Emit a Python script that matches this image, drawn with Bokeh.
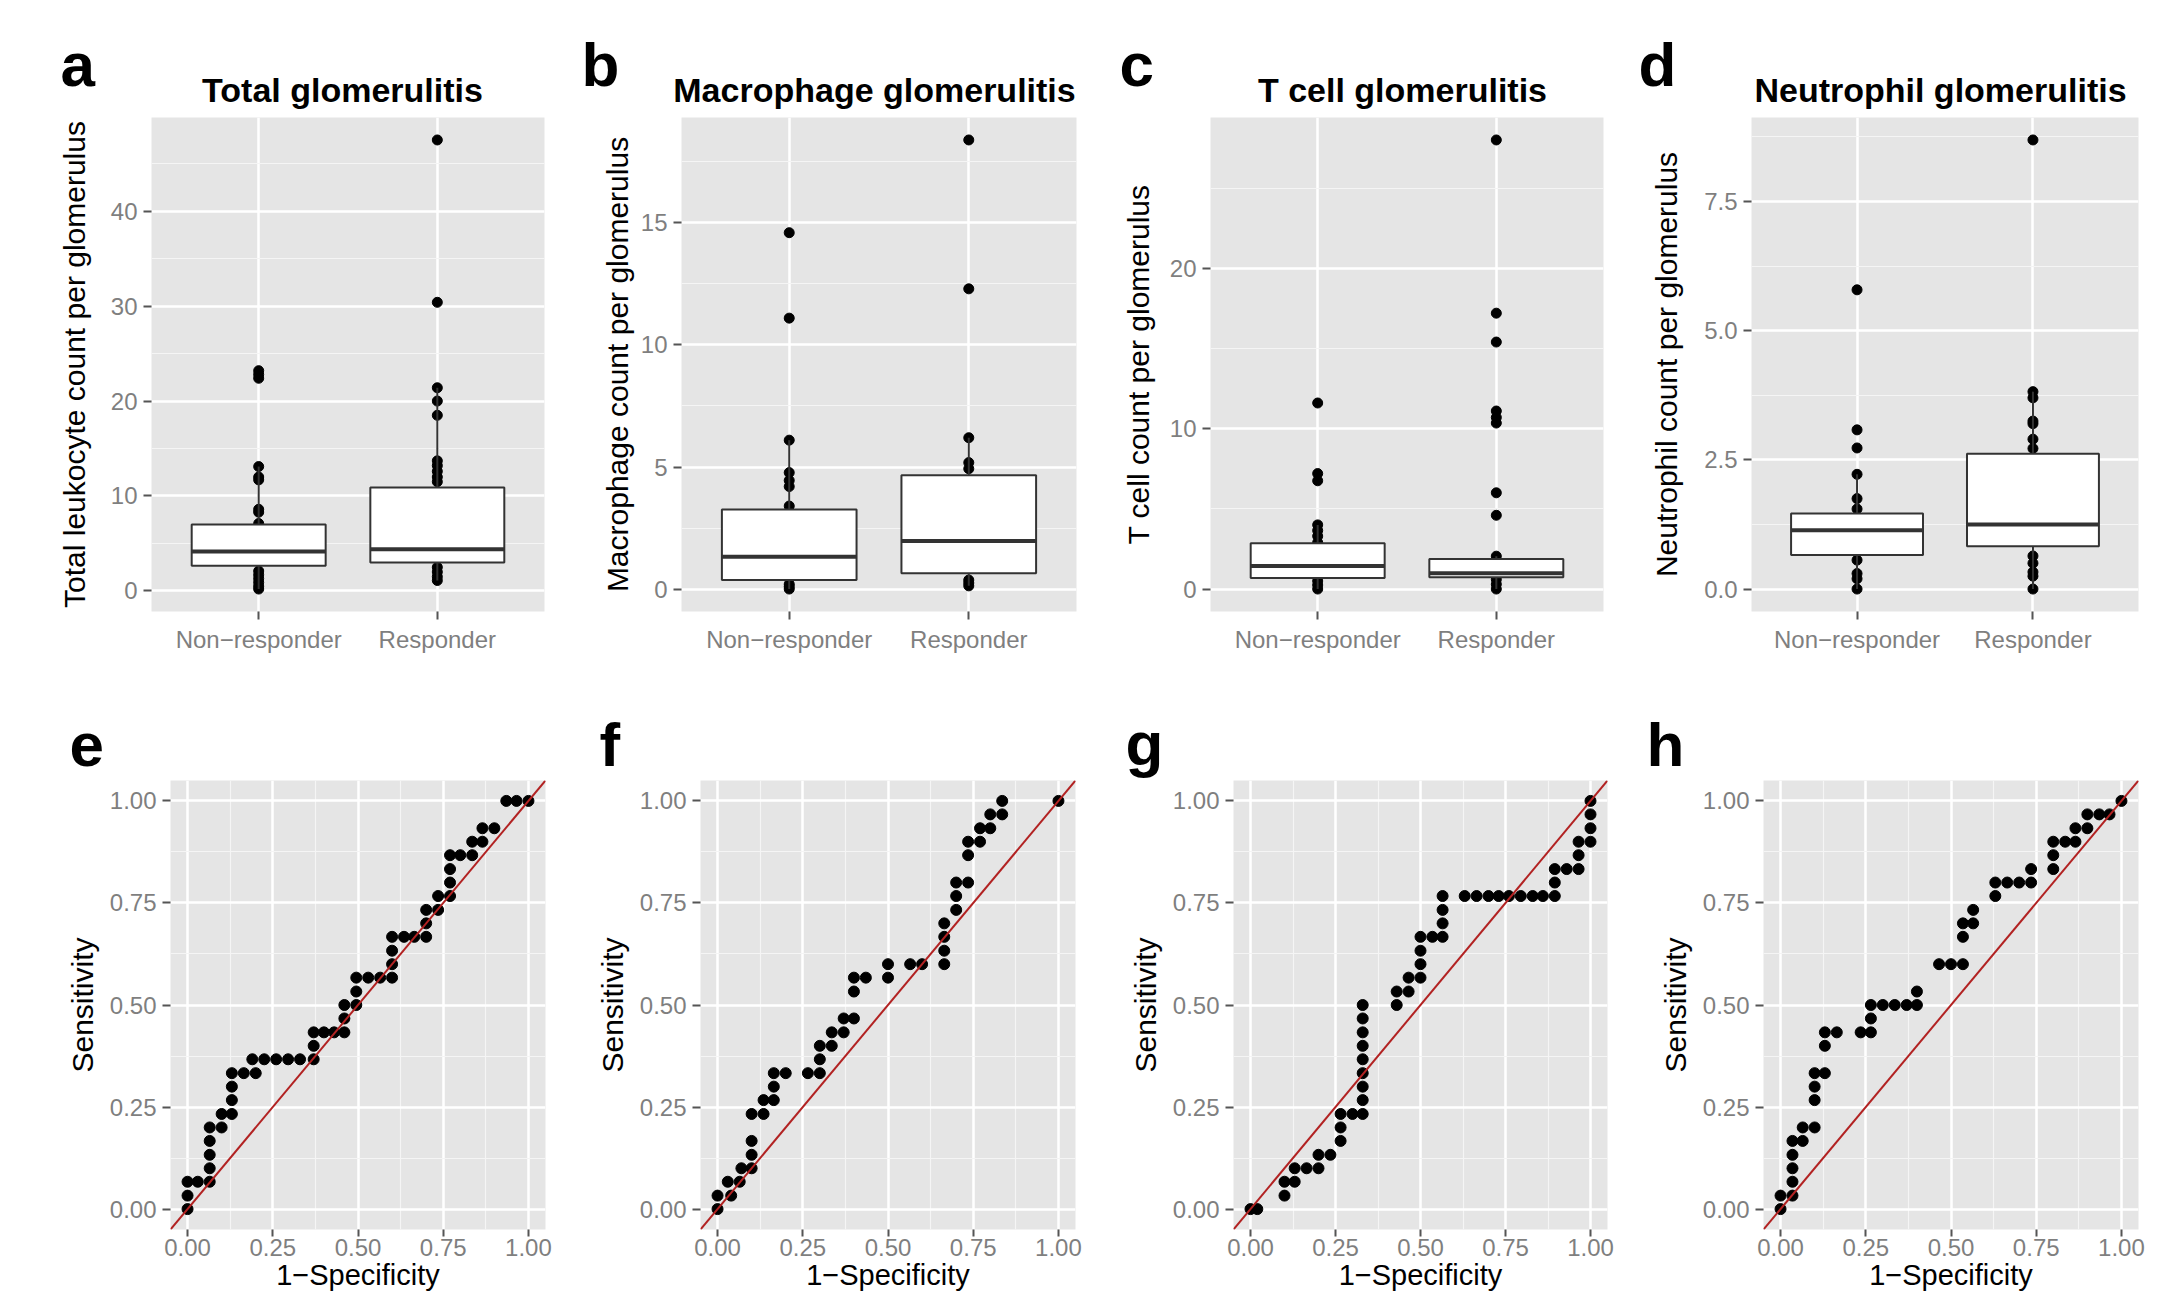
from bokeh.plotting import figure
from bokeh.layouts import column, row
from bokeh.models import FixedTicker, Slope, PrintfTickFormatter, Range1d
from bokeh.core.properties import value
from bokeh.embed import file_html
from bokeh.resources import INLINE

FONT = "Liberation Sans"

# ---------------- data: box plots (top row) ----------------
groups = ["Non\u2212responder", "Responder"]
group_x = [1, 2]

# panel a: Total glomerulitis
a_q1 = [2.65, 3.0]
a_med = [4.15, 4.4]
a_q3 = [7.0, 10.9]
a_wlo = [0.2, 1.1]
a_whi = [13.1, 21.4]
a_nonresp = [0.2, 0.5, 0.9, 1.3, 1.7, 2.1, 7.1, 8.3, 8.6, 11.7, 12.0, 13.1, 22.4, 22.8, 23.2]
a_resp = [1.1, 1.5, 2.0, 2.5, 11.5, 12.0, 12.6, 13.2, 13.7, 18.5, 20.0, 21.4, 30.4, 47.5]
a_ticks = [0, 10, 20, 30, 40]
a_minor = [5, 15, 25, 35, 45]

# panel b: Macrophage glomerulitis
b_q1 = [0.37, 0.65]
b_med = [1.32, 1.97]
b_q3 = [3.26, 4.66]
b_wlo = [0.0, 0.13]
b_whi = [6.1, 6.2]
b_nonresp = [0.0, 0.1, 0.2, 3.4, 4.2, 4.45, 4.77, 6.1, 11.1, 14.6]
b_resp = [0.13, 0.25, 0.37, 4.93, 5.18, 6.2, 12.3, 18.4]
b_ticks = [0, 5, 10, 15]
b_minor = [2.5, 7.5, 12.5, 17.5]

# panel c: T cell glomerulitis
c_q1 = [0.69, 0.74]
c_med = [1.44, 0.99]
c_q3 = [2.85, 1.88]
c_wlo = [0.0, 0.0]
c_whi = [4.0, 2.05]
c_nonresp = [0.0, 0.25, 0.5, 2.9, 3.3, 3.65, 4.0, 6.75, 7.2, 11.6]
c_resp = [0.0, 0.3, 0.6, 2.05, 4.6, 6.0, 10.35, 10.7, 11.1, 15.4, 17.2, 28.0]
c_ticks = [0, 10, 20]
c_minor = [5, 15, 25]

# panel d: Neutrophil glomerulitis
d_q1 = [0.66, 0.83]
d_med = [1.14, 1.25]
d_q3 = [1.46, 2.62]
d_wlo = [0.0, 0.0]
d_whi = [2.22, 3.82]
d_nonresp = [0.0, 0.2, 0.3, 0.56, 1.55, 1.75, 2.22, 2.73, 3.08, 5.79]
d_resp = [0.0, 0.25, 0.33, 0.5, 0.64, 2.72, 2.9, 3.2, 3.25, 3.7, 3.82, 8.69]
d_ticks = [0, 2.5, 5.0, 7.5]
d_minor = [1.25, 3.75, 6.25, 8.75]

top_titles = ["Total glomerulitis", "Macrophage glomerulitis", "T cell glomerulitis", "Neutrophil glomerulitis"]
top_ylabels = ["Total leukocyte count per glomerulus", "Macrophage count per glomerulus",
               "T cell count per glomerulus", "Neutrophil count per glomerulus"]
top_letters = ["a", "b", "c", "d"]
bottom_letters = ["e", "f", "g", "h"]

# ---------------- data: ROC curves (bottom row), (1-specificity, sensitivity) ----------------
e_roc = [(0.00, 0.000), (0.00, 0.033), (0.00, 0.067), (0.03, 0.067), (0.065, 0.067), (0.065, 0.100),
         (0.065, 0.133), (0.065, 0.167), (0.065, 0.200), (0.10, 0.200), (0.10, 0.233), (0.13, 0.233),
         (0.13, 0.267), (0.13, 0.300), (0.13, 0.333), (0.165, 0.333), (0.20, 0.333), (0.19, 0.367),
         (0.225, 0.367), (0.26, 0.367), (0.295, 0.367), (0.33, 0.367), (0.37, 0.367), (0.37, 0.400),
         (0.37, 0.433), (0.40, 0.433), (0.43, 0.433), (0.46, 0.433), (0.46, 0.467), (0.46, 0.500),
         (0.495, 0.500), (0.495, 0.533), (0.495, 0.567), (0.53, 0.567), (0.565, 0.567), (0.60, 0.567),
         (0.60, 0.600), (0.60, 0.633), (0.60, 0.667), (0.635, 0.667), (0.665, 0.667), (0.70, 0.667),
         (0.70, 0.700), (0.70, 0.733), (0.735, 0.733), (0.735, 0.767), (0.77, 0.767), (0.77, 0.800),
         (0.77, 0.833), (0.77, 0.867), (0.80, 0.867), (0.835, 0.867), (0.835, 0.900), (0.865, 0.900),
         (0.865, 0.933), (0.90, 0.933), (0.935, 1.000), (0.965, 1.000), (1.00, 1.000)]

f_roc = [(0.0, 0.0), (0.0, 0.033), (0.04, 0.033), (0.03, 0.067), (0.065, 0.067), (0.07, 0.1),
         (0.1, 0.1), (0.1, 0.133), (0.1, 0.167), (0.1, 0.233), (0.135, 0.233), (0.135, 0.267),
         (0.165, 0.267), (0.165, 0.3), (0.165, 0.333), (0.2, 0.333), (0.265, 0.333), (0.3, 0.333),
         (0.3, 0.367), (0.3, 0.4), (0.335, 0.4), (0.335, 0.433), (0.37, 0.433), (0.37, 0.467),
         (0.4, 0.467), (0.4, 0.533), (0.4, 0.567), (0.435, 0.567), (0.5, 0.567), (0.5, 0.6),
         (0.565, 0.6), (0.6, 0.6), (0.665, 0.6), (0.665, 0.633), (0.665, 0.667), (0.665, 0.7),
         (0.7, 0.733), (0.7, 0.767), (0.7, 0.8), (0.735, 0.8), (0.735, 0.867), (0.735, 0.9),
         (0.77, 0.9), (0.77, 0.933), (0.8, 0.933), (0.8, 0.967), (0.835, 0.967), (0.835, 1.0),
         (1.0, 1.0)]

g_roc = [(0.0, 0.0), (0.02, 0.0), (0.1, 0.033), (0.1, 0.067), (0.13, 0.067), (0.13, 0.1),
         (0.165, 0.1), (0.2, 0.1), (0.2, 0.133), (0.235, 0.133), (0.265, 0.167), (0.265, 0.2),
         (0.265, 0.233), (0.3, 0.233), (0.33, 0.233), (0.33, 0.267), (0.33, 0.3), (0.33, 0.333),
         (0.33, 0.367), (0.33, 0.4), (0.33, 0.433), (0.33, 0.467), (0.33, 0.5), (0.43, 0.5),
         (0.43, 0.533), (0.465, 0.533), (0.465, 0.567), (0.5, 0.567), (0.5, 0.6), (0.5, 0.633),
         (0.5, 0.667), (0.535, 0.667), (0.565, 0.667), (0.565, 0.7), (0.565, 0.733), (0.565, 0.767),
         (0.63, 0.767), (0.665, 0.767), (0.7, 0.767), (0.73, 0.767), (0.76, 0.767), (0.795, 0.767),
         (0.83, 0.767), (0.86, 0.767), (0.895, 0.767), (0.895, 0.8), (0.895, 0.833), (0.93, 0.833),
         (0.965, 0.833), (0.965, 0.867), (0.965, 0.9), (1.0, 0.9), (1.0, 0.933), (1.0, 0.967),
         (1.0, 1.0)]

h_roc = [(0.0, 0.0), (0.0, 0.033), (0.035, 0.033), (0.035, 0.067), (0.035, 0.1), (0.035, 0.133),
         (0.035, 0.167), (0.065, 0.167), (0.065, 0.2), (0.1, 0.2), (0.1, 0.267), (0.1, 0.3),
         (0.1, 0.333), (0.13, 0.333), (0.13, 0.4), (0.13, 0.433), (0.165, 0.433), (0.235, 0.433),
         (0.265, 0.433), (0.265, 0.467), (0.265, 0.5), (0.3, 0.5), (0.335, 0.5), (0.37, 0.5),
         (0.4, 0.5), (0.4, 0.533), (0.465, 0.6), (0.5, 0.6), (0.535, 0.6), (0.535, 0.667),
         (0.535, 0.7), (0.565, 0.7), (0.565, 0.733), (0.63, 0.767), (0.63, 0.8), (0.665, 0.8),
         (0.7, 0.8), (0.735, 0.8), (0.735, 0.833), (0.8, 0.833), (0.8, 0.867), (0.8, 0.9),
         (0.835, 0.9), (0.865, 0.9), (0.865, 0.933), (0.9, 0.933), (0.9, 0.967), (0.935, 0.967),
         (0.965, 0.967), (1.0, 1.0)]

roc_ticks = [0.0, 0.25, 0.5, 0.75, 1.0]
roc_minor = [0.125, 0.375, 0.625, 0.875]

# ---------------- layout / styling constants (pixels) ----------------
PANEL_BG = "#E5E5E5"
TICK_GREY = "#7F7F7F"
BOX_LINE = "#333333"
ROC_RED = "#B22222"
BOX_W = 0.75
PAGE_W = 2159
HEAD_TOP_H, TOP_H, HEAD_BOT_H, BOT_H = 117, 573, 90, 519
FIG_W = [560, 540, 540, 519]
TOP_BORDERS = [(151, 16), (121, 24), (110, 37), (111, 21)]
TOP_YLAB_STANDOFF = [17, 4, 12, 18]
BOT_BORDERS = [(170, 15), (140, 25), (133, 33), (123, 21)]
# header text anchors (text centred vertically on these)
TOP_LETTER_X = [60, 581, 1119, 1638]
TOP_LETTER_Y = [64, 64, 64, 64]
TOP_TITLE_X = [342, 874, 1402, 1940]
TOP_TITLE_Y = 89
BOT_LETTER_X = [69, 599, 1125, 1646]
BOT_LETTER_Y = [54, 54, 53, 54]


def style(p, ticks, minor, fmt, xminor=False):
    p.background_fill_color = PANEL_BG
    p.border_fill_color = "white"
    p.outline_line_color = None
    p.yaxis.ticker = FixedTicker(ticks=ticks, minor_ticks=minor)
    p.yaxis.formatter = PrintfTickFormatter(format=fmt)
    for ax in (p.xaxis[0], p.yaxis[0]):
        ax.axis_line_color = None
        ax.major_tick_line_color = "#555555"
        ax.major_tick_line_width = 2
        ax.major_tick_out = 8
        ax.major_tick_in = 0
        ax.minor_tick_line_color = None
        ax.major_label_text_font = FONT
        ax.major_label_text_font_size = "24px"
        ax.major_label_text_color = TICK_GREY
        ax.major_label_standoff = 6
        ax.axis_label_text_font = FONT
        ax.axis_label_text_font_size = "30px"
        ax.axis_label_text_font_style = "normal"
        ax.axis_label_text_color = "black"
        ax.axis_label_standoff = 8
    p.ygrid.grid_line_color = "white"
    p.ygrid.grid_line_width = 2.5
    p.ygrid.minor_grid_line_color = "#F5F5F5"
    p.ygrid.minor_grid_line_width = 1.2
    p.xgrid.grid_line_color = "white"
    p.xgrid.grid_line_width = 2.5
    if xminor:
        p.xgrid.minor_grid_line_color = "#F5F5F5"
        p.xgrid.minor_grid_line_width = 1.2


def header(height):
    h = figure(width=PAGE_W, height=height, x_range=Range1d(0, PAGE_W), y_range=Range1d(height, 0),
               x_axis_type=None, y_axis_type=None, output_backend="svg", toolbar_location=None,
               min_border=0)
    h.outline_line_color = None
    h.grid.visible = False
    h.background_fill_color = "white"
    h.border_fill_color = "white"
    return h


def add_text(h, xs, ys, texts, size, align):
    h.text(x=xs, y=ys, text=texts, text_font=value(FONT), text_font_size=value(size),
           text_font_style=value("bold"), text_color=value("black"),
           text_align=value(align), text_baseline=value("middle"))


def box_panel(i, q1, med, q3, wlo, whi, nonresp, resp, ticks, minor, fmt):
    allv = nonresp + resp + wlo + whi
    lo, hi = min(allv), max(allv)
    pad = 0.05 * (hi - lo)
    left, right = TOP_BORDERS[i]
    p = figure(width=FIG_W[i], height=TOP_H, x_range=(0.4, 2.6), y_range=(lo - pad, hi + pad),
               output_backend="svg", toolbar_location=None,
               min_border_left=left, min_border_right=right, min_border_top=0, min_border_bottom=79)
    style(p, ticks, minor, fmt)
    p.xaxis.ticker = FixedTicker(ticks=group_x)
    p.xaxis.major_label_overrides = {group_x[0]: groups[0], group_x[1]: groups[1]}
    p.xgrid.ticker = FixedTicker(ticks=group_x)
    p.yaxis.axis_label = top_ylabels[i]
    p.yaxis.axis_label_standoff = TOP_YLAB_STANDOFF[i]

    p.scatter([group_x[0]] * len(nonresp), nonresp, size=10, color="black")
    p.scatter([group_x[1]] * len(resp), resp, size=10, color="black")
    p.segment(x0=group_x, y0=q3, x1=group_x, y1=whi, line_color=BOX_LINE, line_width=2)
    p.segment(x0=group_x, y0=wlo, x1=group_x, y1=q1, line_color=BOX_LINE, line_width=2)
    p.vbar(x=group_x, width=BOX_W, bottom=q1, top=q3, fill_color="white",
           line_color=BOX_LINE, line_width=2)
    p.segment(x0=[g - BOX_W / 2 for g in group_x], x1=[g + BOX_W / 2 for g in group_x],
              y0=med, y1=med, line_color=BOX_LINE, line_width=4)
    return p


def roc_panel(i, pts):
    left, right = BOT_BORDERS[i]
    p = figure(width=FIG_W[i], height=BOT_H, x_range=(-0.05, 1.05), y_range=(-0.05, 1.05),
               output_backend="svg", toolbar_location=None,
               min_border_left=left, min_border_right=right, min_border_top=0, min_border_bottom=70)
    style(p, roc_ticks, roc_minor, "%.2f", xminor=True)
    p.xaxis.ticker = FixedTicker(ticks=roc_ticks, minor_ticks=roc_minor)
    p.xaxis.formatter = PrintfTickFormatter(format="%.2f")
    p.xaxis.major_tick_out = 7
    p.xaxis.major_label_standoff = 2
    p.xaxis.axis_label = "1\u2212Specificity"
    p.xaxis.axis_label_text_font_size = "29px"
    p.xaxis.axis_label_standoff = 0
    p.yaxis.axis_label = "Sensitivity"
    xs = [a for a, b in pts]
    ys = [b for a, b in pts]
    p.scatter(xs, ys, size=11, color="black")
    p.add_layout(Slope(gradient=1, y_intercept=0, line_color=ROC_RED, line_width=2))
    return p


# headers with panel letters and titles
head_top = header(HEAD_TOP_H)
add_text(head_top, TOP_LETTER_X, TOP_LETTER_Y, top_letters, "62px", "left")
add_text(head_top, TOP_TITLE_X, [TOP_TITLE_Y] * 4, top_titles, "34px", "center")

head_bot = header(HEAD_BOT_H)
add_text(head_bot, BOT_LETTER_X, BOT_LETTER_Y, bottom_letters, "62px", "left")

pa = box_panel(0, a_q1, a_med, a_q3, a_wlo, a_whi, a_nonresp, a_resp, a_ticks, a_minor, "%d")
pb = box_panel(1, b_q1, b_med, b_q3, b_wlo, b_whi, b_nonresp, b_resp, b_ticks, b_minor, "%d")
pc = box_panel(2, c_q1, c_med, c_q3, c_wlo, c_whi, c_nonresp, c_resp, c_ticks, c_minor, "%d")
pd_ = box_panel(3, d_q1, d_med, d_q3, d_wlo, d_whi, d_nonresp, d_resp, d_ticks, d_minor, "%.1f")

pe = roc_panel(0, e_roc)
pf = roc_panel(1, f_roc)
pg = roc_panel(2, g_roc)
ph = roc_panel(3, h_roc)

layout = column(head_top, row(pa, pb, pc, pd_), head_bot, row(pe, pf, pg, ph))
open("out.html", "w").write(file_html(layout, INLINE))
